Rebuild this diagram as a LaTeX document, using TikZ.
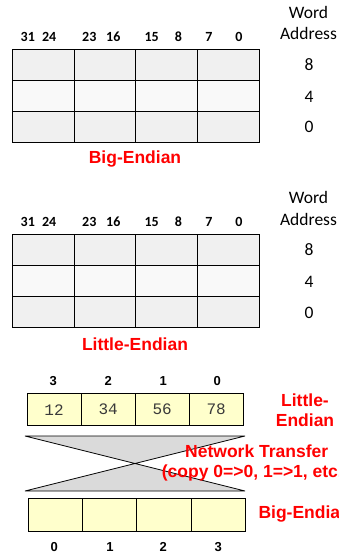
\documentclass[tikz,border=0pt]{standalone}
\usepackage{fontspec}
\setmainfont{Carlito}
\newfontfamily\arialf{Liberation Sans}
\newfontfamily\courf{Liberation Mono}
\definecolor{cellA}{HTML}{F0F0F0}
\definecolor{cellB}{HTML}{F9F9F9}
\definecolor{pale}{HTML}{FFFFCC}
\definecolor{hour}{HTML}{DADADA}
\definecolor{numgray}{HTML}{3A3A3A}
\definecolor{redlab}{HTML}{FF0000}
\tikzset{
  cellbox/.style={draw=black, line width=0.9pt, inner sep=0pt, anchor=north west},
  bitlab/.style={font=\fontsize{14}{16}\selectfont\bfseries, inner sep=0pt},
  addrlab/.style={font=\fontsize{17.5}{20}\selectfont, inner sep=0pt},
  redtitle/.style={font=\arialf\fontsize{17.5}{20}\selectfont\bfseries, text=redlab, inner sep=0pt},
  bytelab/.style={font=\arialf\fontsize{13}{15}\selectfont\bfseries, inner sep=0pt},
  monolab/.style={font=\courf\fontsize{16}{18}\selectfont, text=numgray, inner sep=0pt},
  bytebox/.style={draw=black, line width=0.8pt, fill=pale, inner sep=0pt, anchor=north west}
}
\begin{document}
\begin{tikzpicture}[x=1pt,y=-1pt]
\clip (0,0) rectangle (339,556);
\useasboundingbox (0,0) rectangle (339,556);

% ---------- Table 1 (Big-Endian) ----------
\foreach \r/\col in {1/cellA,2/cellB,3/cellA}{
  \foreach \c in {1,...,4}{
    \node[cellbox, fill=\col, minimum width=61.8pt, minimum height=30.8pt]
      (ta\r\c) at ({11.7+61.8*(\c-1)},{49.3+30.8*(\r-1)}) {};
  }
}
% ---------- Table 2 (Little-Endian) ----------
\foreach \r/\col in {1/cellA,2/cellB,3/cellA}{
  \foreach \c in {1,...,4}{
    \node[cellbox, fill=\col, minimum width=61.8pt, minimum height=30.9pt]
      (tb\r\c) at ({11.7+61.8*(\c-1)},{234+30.9*(\r-1)}) {};
  }
}

% bit labels
\foreach \yy/\nm in {36.7/a,221.7/b}{
  \node[bitlab] (h31\nm) at (27.8,\yy) {31};
  \node[bitlab] (h24\nm) at (49.2,\yy) {24};
  \node[bitlab] (h23\nm) at (89.3,\yy) {23};
  \node[bitlab] (h16\nm) at (113.3,\yy) {16};
  \node[bitlab] (h15\nm) at (151.7,\yy) {15};
  \node[bitlab] (h8\nm) at (178.3,\yy) {8};
  \node[bitlab] (h7\nm) at (209,\yy) {7};
  \node[bitlab] (h0\nm) at (239,\yy) {0};
}

% word address labels
\node[addrlab] (wa1) at (308.5,12.7) {Word};
\node[addrlab] (wa2) at (308.5,33.5) {Address};
\node[addrlab] (a8a) at (309,64.5) {8};
\node[addrlab] (a4a) at (309,96.5) {4};
\node[addrlab] (a0a) at (309,126.5) {0};
\node[addrlab] (wb1) at (308.5,197.3) {Word};
\node[addrlab] (wb2) at (308.5,219.3) {Address};
\node[addrlab] (a8b) at (309,250) {8};
\node[addrlab] (a4b) at (309,281.7) {4};
\node[addrlab] (a0b) at (309,312.7) {0};

\node[redtitle] (bigA) at (135,159.5) {Big-Endian};
\node[redtitle] (litA) at (135,344.5) {Little-Endian};

% ---------- Network transfer ----------
\foreach \x/\t in {53.3/3,108.3/2,163.3/1,217.3/0}{
  \node[bytelab] (tl\t) at (\x,380.7) {\t};
}
\foreach \c/\v in {1/12,2/34,3/56,4/78}{
  \node[bytebox, minimum width=54pt, minimum height=32pt] (lb\c) at ({26.7+54*(\c-1)},393.3) {};
  \node[monolab] (lv\c) at (lb\c.center) {\v};
}

\coordinate (hA) at (25,436);
\coordinate (hB) at (245,436);
\coordinate (hC) at (25,491);
\coordinate (hD) at (245,491);
\draw[fill=hour, line width=0.8pt, line join=bevel] (hA) -- (hB) -- (hC) -- (hD) -- cycle;

\foreach \c in {1,...,4}{
  \node[bytebox, minimum width=54.3pt, minimum height=32.2pt] (bb\c) at ({27.7+54.3*(\c-1)},498.3) {};
}
\foreach \x/\t in {54.3/0,110/1,163.3/2,218.3/3}{
  \node[bytelab] (bl\t) at (\x,546.7) {\t};
}

\node[redtitle] (lit1) at (305,400) {Little-};
\node[redtitle] (lit2) at (305,420.7) {Endian};
\node[redtitle] (nt1) at (256.7,451.7) {Network Transfer};
\node[redtitle, anchor=west] (nt2) at (161.7,473.3) {(copy 0=>0, 1=>1, etc.)};
\node[redtitle, anchor=west] (bigB) at (258.3,514) {Big-Endian};
\end{tikzpicture}
\end{document}
